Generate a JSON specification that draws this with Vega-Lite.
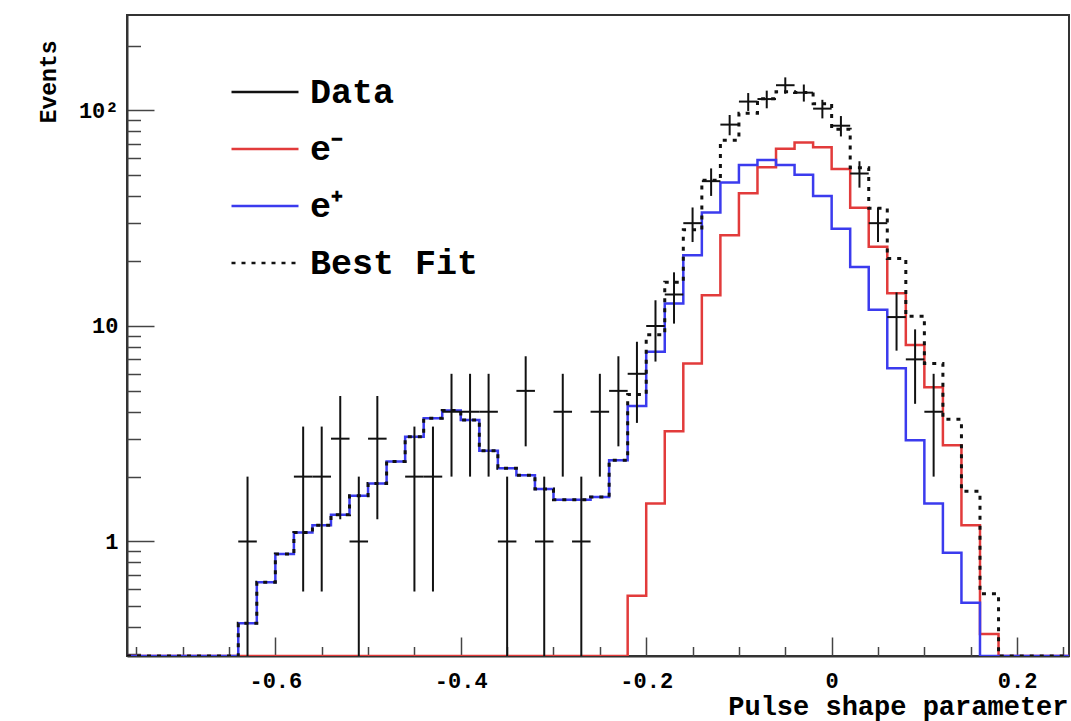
{
  "$schema": "https://vega.github.io/schema/vega-lite/v6.json",
  "width": 942,
  "height": 641,
  "autosize": {"type": "none"},
  "padding": {"left": 127, "top": 15, "right": 2, "bottom": 65},
  "background": "white",
  "config": {
    "view": {"stroke": "#333", "strokeWidth": 2},
    "font": "Liberation Mono",
    "mark": {"invalid": null},
    "axis": {
      "grid": false,
      "labelFont": "Liberation Mono",
      "labelFontWeight": "bold",
      "labelColor": "black",
      "labelFlush": false,
      "labelOverlap": false,
      "titleFont": "Liberation Mono",
      "titleFontWeight": "bold",
      "titleColor": "black",
      "tickColor": "#444",
      "tickWidth": 1.5,
      "domainColor": "#333",
      "domainWidth": 2
    }
  },
  "datasets": {
    "hist": [
      {"x": -0.76, "em": 0, "ep": 0, "fit": 0},
      {"x": -0.74, "em": 0, "ep": 0, "fit": 0},
      {"x": -0.72, "em": 0, "ep": 0, "fit": 0},
      {"x": -0.70, "em": 0, "ep": 0, "fit": 0},
      {"x": -0.68, "em": 0, "ep": 0, "fit": 0},
      {"x": -0.66, "em": 0, "ep": 0, "fit": 0},
      {"x": -0.64, "em": 0, "ep": 0.417, "fit": 0.417},
      {"x": -0.62, "em": 0, "ep": 0.647, "fit": 0.647},
      {"x": -0.60, "em": 0, "ep": 0.875, "fit": 0.875},
      {"x": -0.58, "em": 0, "ep": 1.10, "fit": 1.10},
      {"x": -0.56, "em": 0, "ep": 1.19, "fit": 1.19},
      {"x": -0.54, "em": 0, "ep": 1.33, "fit": 1.33},
      {"x": -0.52, "em": 0, "ep": 1.63, "fit": 1.63},
      {"x": -0.50, "em": 0, "ep": 1.86, "fit": 1.86},
      {"x": -0.48, "em": 0, "ep": 2.35, "fit": 2.35},
      {"x": -0.46, "em": 0, "ep": 3.06, "fit": 3.06},
      {"x": -0.44, "em": 0, "ep": 3.73, "fit": 3.73},
      {"x": -0.42, "em": 0, "ep": 4.05, "fit": 4.05},
      {"x": -0.40, "em": 0, "ep": 3.66, "fit": 3.66},
      {"x": -0.38, "em": 0, "ep": 2.64, "fit": 2.64},
      {"x": -0.36, "em": 0, "ep": 2.19, "fit": 2.19},
      {"x": -0.34, "em": 0, "ep": 2.03, "fit": 2.03},
      {"x": -0.32, "em": 0, "ep": 1.75, "fit": 1.75},
      {"x": -0.30, "em": 0, "ep": 1.56, "fit": 1.56},
      {"x": -0.28, "em": 0, "ep": 1.56, "fit": 1.56},
      {"x": -0.26, "em": 0, "ep": 1.61, "fit": 1.61},
      {"x": -0.24, "em": 0, "ep": 2.38, "fit": 2.38},
      {"x": -0.22, "em": 0.56, "ep": 4.25, "fit": 4.81},
      {"x": -0.20, "em": 1.5, "ep": 7.6, "fit": 9.1},
      {"x": -0.18, "em": 3.25, "ep": 12.7, "fit": 15.95},
      {"x": -0.16, "em": 6.7, "ep": 21.3, "fit": 28.0},
      {"x": -0.14, "em": 13.9, "ep": 33.6, "fit": 47.5},
      {"x": -0.12, "em": 26.4, "ep": 46.3, "fit": 72.7},
      {"x": -0.10, "em": 41.3, "ep": 55.8, "fit": 97.1},
      {"x": -0.08, "em": 54.5, "ep": 58.9, "fit": 113.4},
      {"x": -0.06, "em": 66.5, "ep": 55.8, "fit": 122.3},
      {"x": -0.04, "em": 71.0, "ep": 50.3, "fit": 121.3},
      {"x": -0.02, "em": 67.5, "ep": 40.1, "fit": 107.6},
      {"x": 0.00, "em": 53.5, "ep": 28.3, "fit": 81.8},
      {"x": 0.02, "em": 35.4, "ep": 18.8, "fit": 54.2},
      {"x": 0.04, "em": 23.3, "ep": 11.9, "fit": 35.2},
      {"x": 0.06, "em": 14.2, "ep": 6.36, "fit": 20.56},
      {"x": 0.08, "em": 8.16, "ep": 2.95, "fit": 11.11},
      {"x": 0.10, "em": 5.2, "ep": 1.5, "fit": 6.7},
      {"x": 0.12, "em": 2.8, "ep": 0.887, "fit": 3.69},
      {"x": 0.14, "em": 1.19, "ep": 0.52, "fit": 1.71},
      {"x": 0.16, "em": 0.372, "ep": 0.2, "fit": 0.572},
      {"x": 0.18, "em": 0, "ep": 0, "fit": 0},
      {"x": 0.20, "em": 0, "ep": 0, "fit": 0},
      {"x": 0.22, "em": 0, "ep": 0, "fit": 0},
      {"x": 0.24, "em": 0, "ep": 0, "fit": 0},
      {"x": 0.26, "em": 0, "ep": 0, "fit": 0}
    ],
    "pts": [
      {"c": -0.63, "n": 1, "lo": 0, "hi": 2, "xl": -0.64, "xh": -0.62},
      {"c": -0.57, "n": 2, "lo": 0.586, "hi": 3.414, "xl": -0.58, "xh": -0.56},
      {"c": -0.55, "n": 2, "lo": 0.586, "hi": 3.414, "xl": -0.56, "xh": -0.54},
      {"c": -0.53, "n": 3, "lo": 1.268, "hi": 4.732, "xl": -0.54, "xh": -0.52},
      {"c": -0.51, "n": 1, "lo": 0, "hi": 2, "xl": -0.52, "xh": -0.50},
      {"c": -0.49, "n": 3, "lo": 1.268, "hi": 4.732, "xl": -0.50, "xh": -0.48},
      {"c": -0.45, "n": 2, "lo": 0.586, "hi": 3.414, "xl": -0.46, "xh": -0.44},
      {"c": -0.43, "n": 2, "lo": 0.586, "hi": 3.414, "xl": -0.44, "xh": -0.42},
      {"c": -0.41, "n": 4, "lo": 2, "hi": 6, "xl": -0.42, "xh": -0.40},
      {"c": -0.39, "n": 4, "lo": 2, "hi": 6, "xl": -0.40, "xh": -0.38},
      {"c": -0.37, "n": 4, "lo": 2, "hi": 6, "xl": -0.38, "xh": -0.36},
      {"c": -0.35, "n": 1, "lo": 0, "hi": 2, "xl": -0.36, "xh": -0.34},
      {"c": -0.33, "n": 5, "lo": 2.764, "hi": 7.236, "xl": -0.34, "xh": -0.32},
      {"c": -0.31, "n": 1, "lo": 0, "hi": 2, "xl": -0.32, "xh": -0.30},
      {"c": -0.29, "n": 4, "lo": 2, "hi": 6, "xl": -0.30, "xh": -0.28},
      {"c": -0.27, "n": 1, "lo": 0, "hi": 2, "xl": -0.28, "xh": -0.26},
      {"c": -0.25, "n": 4, "lo": 2, "hi": 6, "xl": -0.26, "xh": -0.24},
      {"c": -0.23, "n": 5, "lo": 2.764, "hi": 7.236, "xl": -0.24, "xh": -0.22},
      {"c": -0.21, "n": 6, "lo": 3.551, "hi": 8.449, "xl": -0.22, "xh": -0.20},
      {"c": -0.19, "n": 10, "lo": 6.838, "hi": 13.162, "xl": -0.20, "xh": -0.18},
      {"c": -0.17, "n": 14, "lo": 10.258, "hi": 17.742, "xl": -0.18, "xh": -0.16},
      {"c": -0.15, "n": 30, "lo": 24.523, "hi": 35.477, "xl": -0.16, "xh": -0.14},
      {"c": -0.13, "n": 47, "lo": 40.144, "hi": 53.856, "xl": -0.14, "xh": -0.12},
      {"c": -0.11, "n": 86, "lo": 76.726, "hi": 95.274, "xl": -0.12, "xh": -0.10},
      {"c": -0.09, "n": 110, "lo": 99.512, "hi": 120.488, "xl": -0.10, "xh": -0.08},
      {"c": -0.07, "n": 113, "lo": 102.37, "hi": 123.63, "xl": -0.08, "xh": -0.06},
      {"c": -0.05, "n": 131, "lo": 119.555, "hi": 142.445, "xl": -0.06, "xh": -0.04},
      {"c": -0.03, "n": 121, "lo": 110, "hi": 132, "xl": -0.04, "xh": -0.02},
      {"c": -0.01, "n": 102, "lo": 91.9, "hi": 112.1, "xl": -0.02, "xh": 0.0},
      {"c": 0.01, "n": 85, "lo": 75.78, "hi": 94.22, "xl": 0.0, "xh": 0.02},
      {"c": 0.03, "n": 51, "lo": 43.859, "hi": 58.141, "xl": 0.02, "xh": 0.04},
      {"c": 0.05, "n": 30, "lo": 24.523, "hi": 35.477, "xl": 0.04, "xh": 0.06},
      {"c": 0.07, "n": 11, "lo": 7.683, "hi": 14.317, "xl": 0.06, "xh": 0.08},
      {"c": 0.09, "n": 7, "lo": 4.354, "hi": 9.646, "xl": 0.08, "xh": 0.10},
      {"c": 0.11, "n": 4, "lo": 2, "hi": 6, "xl": 0.10, "xh": 0.12}
    ]
  },
  "resolve": {"axis": {"x": "independent", "y": "independent"}},
  "layer": [
    {
      "data": {"name": "hist"},
      "mark": {"type": "line", "interpolate": "step-after", "strokeWidth": 2.5, "clip": true},
      "encoding": {
        "x": {
          "field": "x", "type": "quantitative",
          "scale": {"domain": [-0.76, 0.256], "nice": false, "zero": false},
          "axis": {
            "orient": "bottom",
            "values": [-0.6, -0.4, -0.2, 0, 0.2],
            "labelExpr": "datum.value == 0 ? '0' : replace(format(datum.value, '.1f'), '−', '-')",
            "labelFontSize": 22,
            "tickSize": -19,
            "labelPadding": 43,
            "labelBaseline": "middle",
            "title": "Pulse shape parameter",
            "titleFontSize": 27,
            "titleX": 941,
            "titleY": 50,
            "titleAlign": "right",
            "titleAnchor": null,
            "titleBaseline": "middle"
          }
        },
        "y": {
          "field": "em", "type": "quantitative",
          "scale": {"type": "log", "domain": [0.2942, 277.4], "nice": false, "clamp": true},
          "axis": {
            "orient": "left",
            "values": [1, 10, 100],
            "labelExpr": "datum.value == 100 ? '10²' : datum.value == 10 ? '10' : '1'",
            "labelFontSize": 22,
            "tickSize": -27,
            "labelPadding": 36,
            "title": "Events",
            "titleFontSize": 23,
            "titleAngle": -90,
            "titleAlign": "right",
            "titleBaseline": "middle",
            "titleX": -79,
            "titleY": 25
          }
        },
        "color": {
          "datum": "e⁻", "type": "nominal",
          "scale": {"domain": ["Data", "e⁻", "e⁺", "Best Fit"], "range": ["#111111", "#e23b3b", "#3b3bee", "#111111"]},
          "legend": {
            "orient": "none",
            "legendX": 103,
            "legendY": 42,
            "title": null,
            "symbolType": "stroke",
            "symbolSize": 4489,
            "symbolStrokeWidth": 2.5,
            "labelFont": "Liberation Mono",
            "labelFontWeight": "bold",
            "labelFontSize": 35,
            "labelColor": "black",
            "labelLimit": 500,
            "labelOffset": 10,
            "rowPadding": 4,
            "padding": 0,
            "encode": {"symbols": {"update": {"strokeDash": {"signal": "datum.value == 'Best Fit' ? [4, 6] : [1, 0]"}}}}
          }
        }
      }
    },
    {
      "data": {"name": "hist"},
      "mark": {"type": "line", "interpolate": "step-after", "strokeWidth": 2.5, "clip": true},
      "encoding": {
        "x": {
          "field": "x", "type": "quantitative",
          "axis": {
            "orient": "bottom",
            "values": [-0.75, -0.7, -0.65, -0.55, -0.5, -0.45, -0.35, -0.3, -0.25, -0.15, -0.1, -0.05, 0.05, 0.1, 0.15, 0.25],
            "labels": false,
            "domain": false,
            "tickSize": -9.5,
            "title": null
          }
        },
        "y": {
          "field": "ep", "type": "quantitative",
          "axis": {
            "orient": "left",
            "values": [0.3, 0.4, 0.5, 0.6, 0.7, 0.8, 0.9, 2, 3, 4, 5, 6, 7, 8, 9, 20, 30, 40, 50, 60, 70, 80, 90, 200],
            "labels": false,
            "domain": false,
            "tickSize": -13.5,
            "title": null
          }
        },
        "color": {"datum": "e⁺", "type": "nominal"}
      }
    },
    {
      "data": {"name": "hist"},
      "mark": {"type": "line", "interpolate": "step-after", "strokeWidth": 3, "strokeDash": [4, 6], "clip": true},
      "encoding": {
        "x": {"field": "x", "type": "quantitative", "axis": null},
        "y": {"field": "fit", "type": "quantitative", "axis": null},
        "color": {"datum": "Best Fit", "type": "nominal"}
      }
    },
    {
      "data": {"name": "pts"},
      "mark": {"type": "rule", "color": "#111111", "strokeWidth": 2, "clip": true},
      "encoding": {
        "x": {"field": "c", "type": "quantitative", "axis": null},
        "y": {"field": "lo", "type": "quantitative", "axis": null},
        "y2": {"field": "hi"}
      }
    },
    {
      "data": {"name": "pts"},
      "mark": {"type": "rule", "color": "#111111", "strokeWidth": 2, "clip": true},
      "encoding": {
        "x": {"field": "xl", "type": "quantitative", "axis": null},
        "x2": {"field": "xh"},
        "y": {"field": "n", "type": "quantitative", "axis": null}
      }
    }
  ]
}
